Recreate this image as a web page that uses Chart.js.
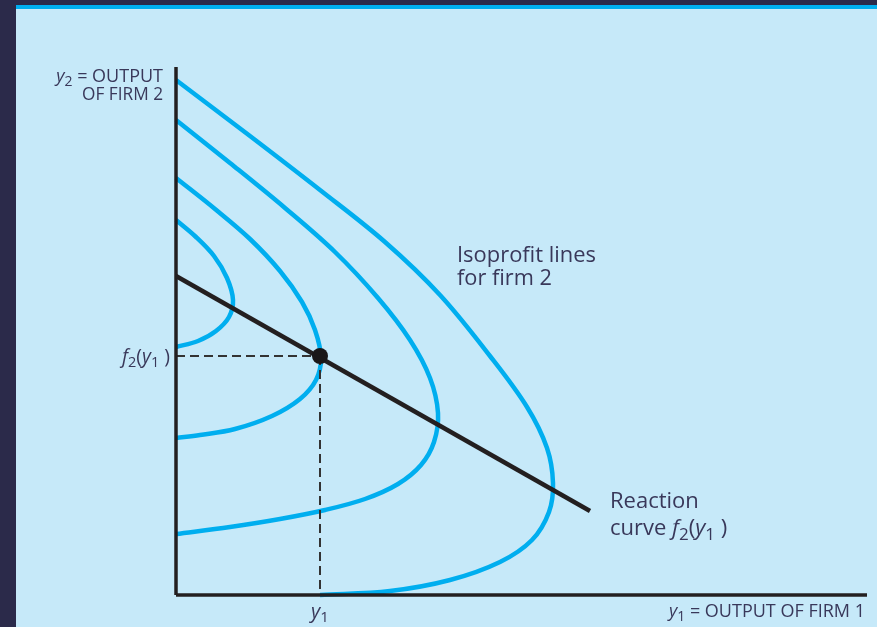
<!DOCTYPE html>
<html>
<head>
<meta charset="utf-8">
<script src="https://cdn.jsdelivr.net/npm/chart.js@4"></script>
<style>
  html, body { margin: 0; padding: 0; background: #2b2a4a; }
  canvas { display: block; }
</style>
</head>
<body>
<canvas id="duopoly" width="877" height="627"></canvas>
<script>
// values (x = output of firm 1, y = output of firm 2)
const axisMaxX = 69.1;
const axisMaxY = 52.8;

const isoprofit1 = [[0, 37.5], [2.0, 35.8], [3.8, 33.9], [5.1, 31.7], [5.7, 29.5], [5.3, 27.8], [4.0, 26.4], [2.2, 25.4], [0, 24.8]];
const isoprofit2 = [[0, 41.7], [3.9, 38.6], [7.4, 35.6], [10.4, 32.4], [12.6, 29.3], [13.9, 26.5], [14.5, 23.7], [14.0, 21.5], [12.4, 19.6], [9.6, 17.9], [5.9, 16.6], [2.4, 16.0], [0, 15.7]];
const isoprofit3 = [[0, 47.5], [5.4, 43.2], [10.9, 38.7], [15.9, 34.3], [20.2, 29.7], [23.4, 25.5], [25.4, 21.7], [26.2, 18.2], [25.8, 15.3], [24.5, 13.0], [22.2, 11.1], [18.9, 9.6], [14.9, 8.5], [10.4, 7.6], [5.4, 6.8], [0, 6.1]];
const isoprofit4 = [[0, 51.5], [7.4, 45.9], [14.4, 40.5], [20.9, 35.3], [26.4, 30.0], [31.4, 23.9], [35.1, 18.8], [37.1, 14.7], [37.7, 11.2], [37.3, 8.3], [35.6, 5.5], [32.4, 3.3], [27.4, 1.5], [21.4, 0.4], [14.4, 0]];

const reactionCurve = [[0, 31.9], [41.4, 8.4]];
const equilibrium = [[14.4, 23.9]];

const toXY = (pts) => pts.map(([x, y]) => ({ x, y }));

const textColor = "#39385a";
const cyan = "#00aeef";

// draw a line of text made of runs: "" normal, "i" italic, "s" subscript
function drawRuns(ctx, runs, x, y, align, size, fitWidth) {
  const fam = "'Open Sans', 'DejaVu Sans', sans-serif";
  const fontFor = (st) => {
    const sz = st.includes("s") ? Math.round(size * 0.75) : size;
    return (st.includes("i") ? "italic " : "") + sz + "px " + fam;
  };
  let total = 0;
  const widths = runs.map(([t, st]) => {
    ctx.font = fontFor(st);
    const w = ctx.measureText(t).width;
    total += w;
    return w;
  });
  const k = fitWidth ? Math.min(1, fitWidth / total) : 1;
  ctx.save();
  ctx.translate(align === "right" ? x - total * k : align === "center" ? x - total * k / 2 : x, y);
  ctx.scale(k, 1);
  ctx.fillStyle = textColor;
  ctx.textBaseline = "alphabetic";
  ctx.textAlign = "left";
  let cx = 0;
  runs.forEach(([t, st], i) => {
    ctx.font = fontFor(st);
    ctx.fillText(t, cx, st.includes("s") ? size * 0.22 : 0);
    cx += widths[i];
  });
  ctx.restore();
}

// slide background: dark frame, blue stripe, light panel
const backdrop = {
  id: "backdrop",
  beforeDraw: (chart) => {
    const ctx = chart.ctx;
    ctx.save();
    ctx.fillStyle = "#2b2a4a";
    ctx.fillRect(0, 0, chart.width, chart.height);
    ctx.fillStyle = "#00aeef";
    ctx.fillRect(16, 5, chart.width - 16, 4);
    ctx.fillStyle = "#c6e9f9";
    ctx.fillRect(16, 9, chart.width - 16, chart.height - 9);
    ctx.restore();
  }
};

// axis names, tick names and notes
const labels = {
  id: "labels",
  afterDraw: (chart) => {
    const ctx = chart.ctx;
    const xs = chart.scales.x, ys = chart.scales.y;
    const ex = xs.getPixelForValue(equilibrium[0][0]);
    const ey = ys.getPixelForValue(equilibrium[0][1]);
    const ax = xs.getPixelForValue(0), ay = ys.getPixelForValue(0);

    drawRuns(ctx, [["y", "i"], ["2", "s"], [" = OUTPUT", ""]], ax - 13, 82, "right", 18, 111);
    drawRuns(ctx, [["OF FIRM 2", ""]], ax - 13, 100, "right", 18, 81);
    drawRuns(ctx, [["f", "i"], ["2", "s"], ["(", ""], ["y", "i"], ["1", "s"], [" )", ""]], ax - 6, ey + 7, "right", 20, 48);
    drawRuns(ctx, [["y", "i"], ["1", "s"]], ex, ay + 23, "center", 20);
    drawRuns(ctx, [["y", "i"], ["1", "s"], [" = OUTPUT OF FIRM 1", ""]], xs.right - 2, ay + 22, "right", 18, 198);

    drawRuns(ctx, [["Isoprofit lines", ""]], 457, 262, "left", 22, 139);
    drawRuns(ctx, [["for firm 2", ""]], 457, 285, "left", 22, 95);
    drawRuns(ctx, [["Reaction", ""]], 610, 508, "left", 22, 89);
    drawRuns(ctx, [["curve ", ""], ["f", "i"], ["2", "s"], ["(", ""], ["y", "i"], ["1", "s"], [" )", ""]], 610, 535, "left", 22, 122);
  }
};

const curveStyle = { borderColor: cyan, borderWidth: 4.5, tension: 0.35, showLine: true, pointRadius: 0, clip: false, order: 5 };

new Chart(document.getElementById("duopoly").getContext("2d"), {
  type: "scatter",
  data: {
    datasets: [
      { label: "equilibrium", data: toXY(equilibrium), pointRadius: 8, backgroundColor: "#1a1718", borderWidth: 0, clip: false, order: 0 },
      { label: "reaction", data: toXY(reactionCurve), showLine: true, borderColor: "#231f20", borderWidth: 4.5, pointRadius: 0, clip: false, order: 1 },
      { label: "y-axis", data: [{ x: 0, y: 0 }, { x: 0, y: axisMaxY }], showLine: true, borderColor: "#231f20", borderWidth: 3.5, pointRadius: 0, clip: false, order: 2 },
      { label: "x-axis", data: [{ x: 0, y: 0 }, { x: axisMaxX, y: 0 }], showLine: true, borderColor: "#231f20", borderWidth: 3.5, pointRadius: 0, clip: false, order: 2 },
      { label: "f2 guide", data: [{ x: 0, y: equilibrium[0][1] }, { x: equilibrium[0][0], y: equilibrium[0][1] }], showLine: true, borderColor: "#333", borderWidth: 2, borderDash: [9, 5], pointRadius: 0, clip: false, order: 3 },
      { label: "y1 guide", data: [{ x: equilibrium[0][0], y: equilibrium[0][1] }, { x: equilibrium[0][0], y: 0 }], showLine: true, borderColor: "#333", borderWidth: 2, borderDash: [9, 5], pointRadius: 0, clip: false, order: 3 },
      { label: "iso 1", data: toXY(isoprofit1), ...curveStyle },
      { label: "iso 2", data: toXY(isoprofit2), ...curveStyle },
      { label: "iso 3", data: toXY(isoprofit3), ...curveStyle },
      { label: "iso 4", data: toXY(isoprofit4), ...curveStyle }
    ]
  },
  options: {
    responsive: false,
    animation: false,
    layout: { padding: { left: 176, right: 10, top: 67, bottom: 32 } },
    plugins: { legend: { display: false }, tooltip: { enabled: false } },
    scales: {
      x: { type: "linear", min: 0, max: axisMaxX, display: false },
      y: { type: "linear", min: 0, max: axisMaxY, display: false }
    }
  },
  plugins: [backdrop, labels]
});
</script>
</body>
</html>
